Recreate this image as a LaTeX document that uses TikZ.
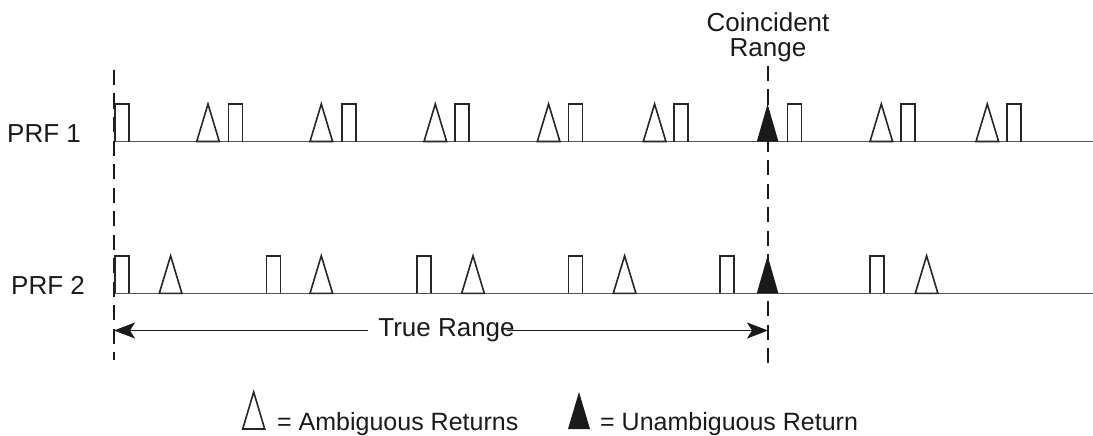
\documentclass[tikz,border=0pt]{standalone}
\usepackage{fontspec}
\setmainfont{Liberation Sans}
\usetikzlibrary{arrows.meta}
\definecolor{basegray}{HTML}{555555}
\definecolor{shapegray}{HTML}{262626}
\definecolor{inkblack}{HTML}{1A1A1A}
\begin{document}
\begin{tikzpicture}[x=1pt,y=-1pt,
  baseline/.style={draw=basegray, line width=1.4pt},
  pulse/.style={draw=shapegray, line width=1.6pt, line join=miter},
  dashline/.style={draw=inkblack, line width=2.4pt, dash pattern=on 15pt off 8.5pt},
  rangearrow/.style={draw=inkblack, line width=1.8pt, -{Stealth[length=21pt,width=16pt,inset=5pt]}},
  lbl/.style={inner sep=0pt, font=\fontsize{26}{25}\selectfont, text=inkblack},
  leg/.style={inner sep=0pt, font=\fontsize{25}{25}\selectfont, text=inkblack},
  rectpulse/.pic={\draw[pulse] (0,0) -- (0,-37.5) -- (14,-37.5) -- (14,0);},
  ambig/.pic={\draw[pulse, fill=white] (-11.3,0) -- (0,-37.5) -- (11.3,0) -- cycle;},
  unambig/.pic={\fill[inkblack] (-10.8,0) -- (0,-37.5) -- (10.8,0) -- cycle;},
  legambig/.pic={\draw[pulse, fill=white] (-11,0) -- (0,-37) -- (11,0) -- cycle;},
  legunambig/.pic={\fill[inkblack] (-11,0) -- (0,-37) -- (11,0) -- cycle;}
]
\useasboundingbox (0,0) rectangle (1093,436);

% baselines
\coordinate (b1s) at (114,141.5);
\coordinate (b1e) at (1093,141.5);
\coordinate (b2s) at (114,293.3);
\coordinate (b2e) at (1093,293.3);
\draw[baseline] (b1s) -- (b1e);
\draw[baseline] (b2s) -- (b2e);

% dashed range markers
\coordinate (dlt) at (114,70);
\coordinate (dlb) at (114,360);
\coordinate (drt) at (768,66);
\coordinate (drb) at (768,368);
\draw[dashline] (dlt) -- (dlb);
\draw[dashline] (drt) -- (drb);

% PRF 1 pulses
\foreach \x in {114,227.7,341,454,567.7,673.3,786.7,900,1006}
  \pic at (\x+0.8,141.5) {rectpulse};
\foreach \x in {208,321.3,435.3,548.6,654.6,881.3,987.3}
  \pic at (\x,141.5) {ambig};
\pic at (767.6,141.5) {unambig};

% PRF 2 pulses
\foreach \x in {114,265.7,416,567.7,719,869.3}
  \pic at (\x+0.8,293.3) {rectpulse};
\foreach \x in {170.6,321.3,473,624.6,926.6}
  \pic at (\x,293.3) {ambig};
\pic at (767.6,293.3) {unambig};

% labels
\node[lbl, anchor=base west] (prf1) at (7,142) {PRF 1};
\node[lbl, anchor=base west] (prf2) at (11,294) {PRF 2};
\node[lbl, anchor=north, align=center] (coinc) at (768,12.7) {Coincident\\Range};

% true range arrow
\node[lbl, anchor=base] (tr) at (446.5,336.7) {True Range};
\coordinate (al) at (114,330.5);
\coordinate (ar) at (768,330.5);
\draw[rangearrow] ([xshift=-10pt]tr.west |- al) -- (al);
\draw[rangearrow] ([xshift=-8pt]tr.east |- ar) -- (ar);

% legend
\pic at (253.7,429) {legambig};
\node[leg, anchor=base west] (lega) at (277,430) {= Ambiguous Returns};
\pic at (579,429) {legunambig};
\node[leg, anchor=base west] (legu) at (600,430) {= Unambiguous Return};
\end{tikzpicture}
\end{document}
